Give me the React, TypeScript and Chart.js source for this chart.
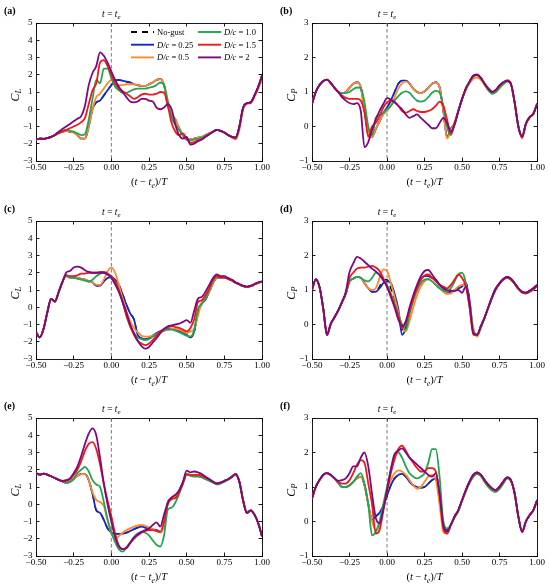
import { useEffect, useRef } from 'react';
import { Chart, registerables } from 'chart.js';

Chart.register(...registerables);

// time axis (t - te)/T shared by every panel
const tGrid = [
  -0.5, -0.475, -0.45, -0.425, -0.4, -0.375, -0.35, -0.325, -0.3, -0.275,
  -0.25, -0.225, -0.2, -0.175, -0.15, -0.125, -0.1, -0.075, -0.05, -0.025,
  0, 0.025, 0.05, 0.075, 0.1, 0.125, 0.15, 0.175, 0.2, 0.225,
  0.25, 0.275, 0.3, 0.325, 0.35, 0.375, 0.4, 0.425, 0.45, 0.475,
  0.5, 0.525, 0.55, 0.575, 0.6, 0.625, 0.65, 0.675, 0.7, 0.725,
  0.75, 0.775, 0.8, 0.825, 0.85, 0.875, 0.9, 0.925, 0.95, 0.975,
  1.0,
];

const seriesLabels = ['No-gust', 'D/c = 0.25', 'D/c = 0.5', 'D/c = 1.0', 'D/c = 1.5', 'D/c = 2'];
const seriesColors = ['#000000', '#1428c8', '#ff8a2a', '#22a552', '#f01818', '#80087e'];

// ---- panel (a): C_L
const aNoGust = [
  -1.75, -1.7, -1.72, -1.68, -1.6, -1.5, -1.35, -1.3, -1.25, -1.3,
  -1.35, -1.5, -1.7, -1.7, -1.0, 0.0, 0.4, 0.5, 0.8, 1.1,
  1.4, 1.65, 1.7, 1.65, 1.6, 1.55, 1.45, 1.4, 1.35, 1.35,
  1.45, 1.55, 1.7, 1.75, 1.4, 0.2, -0.3, -0.6, -1.1, -1.5,
  -1.75, -1.75, -1.7, -1.65, -1.6, -1.5, -1.4, -1.3, -1.2, -1.25,
  -1.35, -1.5, -1.6, -1.65, -1.0, 0.1, 0.35, 0.4, 0.8, 1.3,
  1.95,
];
const aD025 = [
  -1.75, -1.7, -1.72, -1.68, -1.6, -1.5, -1.35, -1.3, -1.25, -1.3,
  -1.35, -1.5, -1.7, -1.7, -1.0, 0.0, 0.4, 0.5, 0.8, 1.1,
  1.4, 1.65, 1.7, 1.65, 1.6, 1.55, 1.45, 1.4, 1.35, 1.35,
  1.45, 1.55, 1.7, 1.75, 1.4, 0.2, -0.3, -0.6, -1.1, -1.5,
  -1.75, -1.75, -1.7, -1.65, -1.6, -1.5, -1.4, -1.3, -1.2, -1.25,
  -1.35, -1.5, -1.6, -1.65, -1.0, 0.1, 0.35, 0.4, 0.8, 1.3,
  1.95,
];
const aD05 = [
  -1.75, -1.7, -1.72, -1.68, -1.6, -1.5, -1.35, -1.3, -1.25, -1.3,
  -1.35, -1.5, -1.7, -1.7, -1.0, 0.0, 0.7, 0.9, 1.2, 1.5,
  1.7, 1.5, 1.4, 1.4, 1.45, 1.45, 1.45, 1.4, 1.35, 1.35,
  1.45, 1.55, 1.7, 1.75, 1.4, 0.2, -0.3, -0.6, -1.1, -1.5,
  -1.75, -1.75, -1.7, -1.65, -1.6, -1.5, -1.4, -1.3, -1.2, -1.25,
  -1.35, -1.5, -1.65, -1.75, -1.2, 0.0, 0.3, 0.35, 0.7, 1.2,
  1.7,
];
const aD1 = [
  -1.75, -1.7, -1.72, -1.68, -1.6, -1.5, -1.35, -1.25, -1.2, -1.25,
  -1.3, -1.4, -1.5, -1.45, -0.6, 0.6, 1.7, 1.5, 2.35, 2.35,
  1.8, 1.3, 1.1, 0.95, 0.95, 1.05, 1.15, 1.2, 1.2, 1.2,
  1.25, 1.3, 1.4, 1.55, 1.4, 0.5, -0.5, -0.9, -1.2, -1.5,
  -1.75, -1.8, -1.75, -1.7, -1.65, -1.55, -1.45, -1.3, -1.2, -1.25,
  -1.35, -1.5, -1.6, -1.7, -1.0, 0.1, 0.35, 0.4, 0.8, 1.3,
  1.95,
];
const aD15 = [
  -1.75, -1.7, -1.72, -1.68, -1.6, -1.5, -1.4, -1.3, -1.2, -1.1,
  -1.0, -0.9, -0.75, -0.5, 0.3, 1.1, 1.5, 2.7, 2.85, 2.5,
  2.0, 1.5, 1.2, 1.05, 0.9, 0.75, 0.6, 0.7, 0.85, 0.9,
  0.85, 0.85, 0.9, 1.0, 0.95, 0.2, -0.8, -1.3, -1.5, -1.4,
  -1.7, -1.95, -1.9, -1.8, -1.75, -1.6, -1.45, -1.3, -1.2, -1.25,
  -1.35, -1.5, -1.6, -1.65, -1.0, 0.1, 0.35, 0.4, 0.8, 1.3,
  1.95,
];
const aD2 = [
  -1.75, -1.7, -1.72, -1.68, -1.6, -1.5, -1.3, -1.15, -1.0, -0.85,
  -0.7, -0.55, -0.4, 0.2, 1.4, 2.1, 2.5, 3.3, 3.1, 2.7,
  2.2, 1.7, 1.3, 1.0, 0.7, 0.45, 0.4, 0.45, 0.6, 0.6,
  0.5, 0.45, 0.1, 0.0, 0.1, 0.3, 0.0, -0.9, -1.5, -1.7,
  -1.6, -2.05, -2.0, -1.85, -1.75, -1.6, -1.45, -1.3, -1.2, -1.25,
  -1.35, -1.5, -1.6, -1.65, -1.0, 0.1, 0.35, 0.4, 0.8, 1.3,
  1.95,
];

// ---- panel (b): C_P
const bNoGust = [
  0.66, 1.0, 1.2, 1.32, 1.36, 1.26, 1.12, 1.0, 0.97, 1.0,
  1.12, 1.24, 1.28, 1.14, 0.46, -0.2, -0.3, -0.07, 0.15, 0.38,
  0.55, 0.75, 1.0, 1.24, 1.33, 1.33, 1.24, 1.1, 1.0, 0.97,
  1.02, 1.12, 1.24, 1.28, 1.14, 0.46, -0.3, -0.07, 0.1, 0.45,
  0.8, 1.1, 1.3, 1.47, 1.5, 1.41, 1.24, 1.1, 1.0, 1.06,
  1.19, 1.28, 1.33, 1.24, 0.7, 0.0, -0.3, 0.08, 0.27, 0.37,
  0.66,
];
const bD025 = [
  0.66, 1.0, 1.2, 1.32, 1.36, 1.26, 1.12, 1.0, 0.97, 1.0,
  1.12, 1.24, 1.28, 1.14, 0.46, -0.2, -0.3, -0.07, 0.15, 0.38,
  0.55, 0.75, 1.0, 1.24, 1.33, 1.33, 1.24, 1.1, 1.0, 0.97,
  1.02, 1.12, 1.24, 1.28, 1.14, 0.46, -0.3, -0.07, 0.1, 0.45,
  0.8, 1.1, 1.3, 1.47, 1.5, 1.41, 1.24, 1.1, 1.0, 1.06,
  1.19, 1.28, 1.33, 1.24, 0.7, 0.0, -0.3, 0.08, 0.27, 0.37,
  0.66,
];
const bD05 = [
  0.66, 1.0, 1.2, 1.32, 1.36, 1.26, 1.12, 1.0, 0.97, 1.0,
  1.12, 1.24, 1.28, 1.14, 0.46, -0.2, -0.3, -0.07, 0.15, 0.35,
  0.45, 0.6, 0.85, 1.1, 1.25, 1.3, 1.25, 1.1, 1.0, 0.97,
  1.02, 1.12, 1.24, 1.28, 1.14, 0.46, -0.35, -0.1, 0.1, 0.45,
  0.8, 1.05, 1.25, 1.38, 1.42, 1.35, 1.2, 1.05, 0.97, 1.0,
  1.12, 1.25, 1.35, 1.25, 0.7, 0.0, -0.35, 0.05, 0.25, 0.37,
  0.66,
];
const bD1 = [
  0.66, 1.0, 1.2, 1.32, 1.36, 1.26, 1.12, 1.0, 0.97, 0.97,
  1.0, 1.08, 1.13, 1.12, 0.7, 0.0, -0.25, 0.25, 0.33, 0.4,
  0.5, 0.6, 0.75, 0.88, 0.98, 1.02, 0.98, 0.85, 0.75, 0.72,
  0.75, 0.85, 0.98, 1.03, 0.98, 0.6, 0.0, -0.25, 0.05, 0.45,
  0.8, 1.1, 1.3, 1.45, 1.48, 1.4, 1.22, 1.05, 0.95, 1.0,
  1.12, 1.22, 1.3, 1.24, 0.7, 0.0, -0.3, 0.08, 0.27, 0.37,
  0.66,
];
const bD15 = [
  0.66, 1.0, 1.2, 1.32, 1.36, 1.26, 1.12, 1.0, 0.9, 0.83,
  0.8, 0.8, 0.8, 0.75, 0.4, -0.3, 0.0, 0.1, 0.3, 0.55,
  0.7, 0.75, 0.72, 0.6, 0.45, 0.4, 0.45, 0.5, 0.45, 0.42,
  0.42, 0.45, 0.5, 0.6, 0.72, 0.6, 0.2, -0.2, 0.1, 0.45,
  0.8, 1.1, 1.3, 1.47, 1.5, 1.41, 1.24, 1.1, 1.0, 1.06,
  1.19, 1.28, 1.33, 1.24, 0.7, 0.0, -0.3, 0.08, 0.27, 0.37,
  0.66,
];
const bD2 = [
  0.66, 1.0, 1.2, 1.32, 1.36, 1.26, 1.12, 1.0, 0.85, 0.75,
  0.68, 0.65, 0.68, 0.45, -0.6, -0.45, -0.1, 0.2, 0.45, 0.65,
  0.82, 0.78, 0.7, 0.6, 0.5, 0.35, 0.25, 0.3, 0.35, 0.25,
  0.15, 0.05, -0.05, -0.05, 0.1, 0.25, 0.1, -0.15, 0.05, 0.45,
  0.8, 1.1, 1.3, 1.47, 1.5, 1.41, 1.24, 1.1, 1.0, 1.06,
  1.19, 1.28, 1.33, 1.24, 0.7, 0.0, -0.3, 0.08, 0.27, 0.37,
  0.66,
];

// ---- panel (c): C_L
const cNoGust = [
  -1.45, -1.75, -1.26, -0.3, 0.49, 0.33, 0.87, 1.46, 1.85, 1.75,
  1.72, 1.7, 1.65, 1.6, 1.5, 1.45, 1.25, 1.25, 1.5, 1.7,
  1.75, 1.6, 1.3, 0.75, 0.15, -0.35, -0.7, -1.6, -1.8, -1.85,
  -1.8, -1.65, -1.5, -1.4, -1.3, -1.25, -1.25, -1.3, -1.35, -1.45,
  -1.6, -1.75, -1.4, -0.3, 0.2, 0.45, 0.9, 1.4, 1.7, 1.72,
  1.72, 1.65, 1.55, 1.42, 1.32, 1.22, 1.18, 1.22, 1.32, 1.42,
  1.48,
];
const cD025 = [
  -1.45, -1.75, -1.26, -0.3, 0.49, 0.33, 0.87, 1.46, 1.85, 1.75,
  1.72, 1.7, 1.65, 1.6, 1.5, 1.45, 1.25, 1.25, 1.5, 1.7,
  1.75, 1.6, 1.3, 0.75, 0.15, -0.35, -0.7, -1.6, -1.8, -1.85,
  -1.8, -1.65, -1.5, -1.4, -1.3, -1.25, -1.25, -1.3, -1.35, -1.45,
  -1.6, -1.75, -1.4, -0.3, 0.2, 0.45, 0.9, 1.4, 1.7, 1.72,
  1.72, 1.65, 1.55, 1.42, 1.32, 1.22, 1.18, 1.22, 1.32, 1.42,
  1.48,
];
const cD05 = [
  -1.45, -1.75, -1.26, -0.3, 0.49, 0.33, 0.87, 1.46, 1.85, 1.75,
  1.72, 1.7, 1.65, 1.6, 1.5, 1.45, 1.3, 1.3, 1.6, 2.1,
  2.3, 2.0, 1.3, 0.5, -0.2, -0.8, -1.2, -1.45, -1.65, -1.7,
  -1.7, -1.65, -1.55, -1.45, -1.35, -1.3, -1.25, -1.25, -1.3, -1.4,
  -1.5, -1.4, -1.25, -0.5, 0.3, 0.5, 0.9, 1.4, 1.7, 1.72,
  1.72, 1.65, 1.55, 1.42, 1.32, 1.22, 1.18, 1.22, 1.32, 1.42,
  1.48,
];
const cD1 = [
  -1.45, -1.75, -1.26, -0.3, 0.49, 0.33, 0.87, 1.46, 1.8, 1.7,
  1.7, 1.65, 1.6, 1.55, 1.5, 1.6, 1.8, 1.95, 2.0, 1.9,
  1.7, 1.35, 0.9, 0.3, -0.4, -1.1, -1.5, -1.75, -1.85, -1.9,
  -1.85, -1.7, -1.55, -1.45, -1.35, -1.3, -1.3, -1.35, -1.45, -1.55,
  -1.65, -1.7, -1.3, -0.1, 0.2, 0.5, 1.0, 1.5, 1.75, 1.72,
  1.72, 1.65, 1.55, 1.42, 1.32, 1.22, 1.18, 1.22, 1.32, 1.42,
  1.48,
];
const cD15 = [
  -1.45, -1.75, -1.26, -0.3, 0.49, 0.33, 0.87, 1.46, 1.85, 1.8,
  1.8, 1.85, 1.95, 1.95, 2.0, 2.0, 2.0, 2.05, 2.05, 1.95,
  1.8, 1.5, 1.0, 0.3, -0.5, -1.1, -1.6, -1.95, -2.1, -2.2,
  -2.1, -1.9, -1.65, -1.4, -1.25, -1.15, -1.1, -1.15, -1.2, -1.3,
  -1.4, -1.2, -0.7, 0.3, 0.4, 0.7, 1.1, 1.6, 1.8, 1.72,
  1.72, 1.65, 1.55, 1.42, 1.32, 1.22, 1.18, 1.22, 1.32, 1.42,
  1.48,
];
const cD2 = [
  -1.45, -1.75, -1.26, -0.3, 0.49, 0.33, 0.87, 1.46, 2.0, 2.1,
  2.3, 2.35, 2.3, 2.15, 2.05, 2.0, 2.0, 2.0, 2.0, 1.9,
  1.7, 1.35, 0.9, 0.3, -0.3, -1.0, -1.5, -1.95, -2.25, -2.4,
  -2.3, -2.05, -1.8, -1.5, -1.25, -1.1, -1.05, -1.0, -0.95, -0.85,
  -0.75, -0.9, -0.2, 0.5, 0.6, 0.9, 1.3, 1.7, 1.9, 1.8,
  1.8, 1.7, 1.6, 1.45, 1.35, 1.25, 1.2, 1.25, 1.35, 1.45,
  1.5,
];

// ---- panel (d): C_P
const dNoGust = [
  1.0, 1.31, 1.09, 0.46, -0.3, 0.02, 0.21, 0.41, 0.65, 0.89,
  1.25, 1.33, 1.38, 1.35, 1.2, 1.05, 0.95, 0.95, 1.1, 1.3,
  1.3, 1.05, 0.75, 0.3, -0.15, -0.1, 0.4, 0.8, 1.1, 1.3,
  1.4, 1.4, 1.35, 1.3, 1.15, 1.05, 0.95, 0.95, 1.0, 1.05,
  1.1, 1.2, 0.7, -0.2, -0.3, -0.05, 0.2, 0.5, 0.8, 1.05,
  1.2, 1.32, 1.38, 1.33, 1.2, 1.05, 0.95, 0.92, 0.98, 1.05,
  1.15,
];
const dD025 = [
  1.0, 1.31, 1.09, 0.46, -0.3, 0.02, 0.21, 0.41, 0.65, 0.89,
  1.25, 1.33, 1.38, 1.35, 1.2, 1.05, 0.95, 0.95, 1.05, 1.2,
  1.25, 1.2, 0.9, 0.45, -0.3, -0.1, 0.4, 0.8, 1.1, 1.3,
  1.4, 1.4, 1.35, 1.3, 1.15, 1.05, 0.95, 0.95, 1.0, 1.05,
  1.1, 1.2, 0.7, -0.2, -0.3, -0.05, 0.2, 0.5, 0.8, 1.05,
  1.2, 1.32, 1.38, 1.33, 1.2, 1.05, 0.95, 0.92, 0.98, 1.05,
  1.15,
];
const dD05 = [
  1.0, 1.31, 1.09, 0.46, -0.3, 0.02, 0.21, 0.41, 0.65, 0.89,
  1.25, 1.33, 1.38, 1.35, 1.2, 1.05, 1.0, 1.05, 1.35, 1.6,
  1.55, 1.2, 0.8, 0.35, -0.05, -0.2, 0.1, 0.5, 0.85, 1.1,
  1.25, 1.3, 1.25, 1.15, 1.05, 0.95, 0.88, 0.9, 1.0, 1.1,
  1.15, 1.1, 0.6, -0.1, -0.35, -0.1, 0.2, 0.5, 0.78, 1.02,
  1.18, 1.3, 1.36, 1.3, 1.18, 1.03, 0.93, 0.9, 0.95, 1.02,
  1.12,
];
const dD1 = [
  1.0, 1.31, 1.09, 0.46, -0.3, 0.02, 0.21, 0.41, 0.65, 0.89,
  1.25, 1.33, 1.38, 1.35, 1.28, 1.25, 1.35, 1.5, 1.45, 1.3,
  1.15, 0.9, 0.6, 0.3, 0.0, -0.15, 0.3, 0.7, 1.0, 1.2,
  1.3, 1.32, 1.25, 1.15, 1.05, 0.98, 0.95, 1.05, 1.25, 1.45,
  1.5, 1.2, 0.5, -0.2, -0.3, -0.1, 0.2, 0.5, 0.78, 1.02,
  1.18, 1.3, 1.36, 1.3, 1.18, 1.03, 0.93, 0.9, 0.95, 1.02,
  1.12,
];
const dD15 = [
  1.0, 1.31, 1.09, 0.46, -0.3, 0.02, 0.21, 0.41, 0.65, 0.9,
  1.35, 1.5, 1.62, 1.65, 1.65, 1.68, 1.7, 1.65, 1.55, 1.35,
  1.1, 0.85, 0.55, 0.25, -0.1, 0.05, 0.4, 0.75, 1.05, 1.3,
  1.42, 1.45, 1.35, 1.25, 1.15, 1.1, 1.05, 1.15, 1.3, 1.45,
  1.35, 1.1, 0.5, -0.3, -0.3, -0.05, 0.2, 0.5, 0.78, 1.02,
  1.18, 1.3, 1.36, 1.3, 1.18, 1.03, 0.93, 0.9, 0.95, 1.02,
  1.12,
];
const dD2 = [
  1.0, 1.31, 1.09, 0.46, -0.3, 0.02, 0.21, 0.41, 0.65, 0.95,
  1.52, 1.77, 1.96, 1.91, 1.82, 1.72, 1.62, 1.54, 1.43, 1.28,
  1.09, 0.8, 0.5, 0.15, -0.05, 0.1, 0.5, 0.85, 1.15, 1.4,
  1.55, 1.58, 1.45, 1.3, 1.15, 1.05, 1.0, 0.98, 0.97, 1.0,
  0.92, 1.1, 0.6, -0.25, -0.3, -0.05, 0.2, 0.5, 0.8, 1.05,
  1.2, 1.32, 1.38, 1.33, 1.2, 1.05, 0.95, 0.92, 0.98, 1.05,
  1.15,
];

// ---- panel (e): C_L
const eNoGust = [
  1.8, 1.72, 1.78, 1.72, 1.62, 1.52, 1.42, 1.33, 1.25, 1.3,
  1.45, 1.65, 1.75, 1.75, 1.4, 0.6, -0.35, -0.5, -0.9, -1.4,
  -1.65, -1.7, -1.72, -1.7, -1.65, -1.55, -1.45, -1.35, -1.3, -1.35,
  -1.4, -1.45, -1.5, -1.6, -1.2, 0.1, 0.35, 0.45, 0.8, 1.25,
  1.75, 1.7, 1.7, 1.7, 1.65, 1.55, 1.45, 1.3, 1.2, 1.25,
  1.35, 1.45, 1.6, 1.75, 1.3, 0.2, -0.5, -0.35, -0.6, -1.1,
  -1.85,
];
const eD025 = [
  1.8, 1.72, 1.78, 1.72, 1.62, 1.52, 1.42, 1.33, 1.25, 1.3,
  1.45, 1.65, 1.75, 1.75, 1.4, 0.6, -0.35, -0.5, -0.9, -1.4,
  -1.65, -1.7, -1.72, -1.7, -1.65, -1.55, -1.45, -1.35, -1.3, -1.35,
  -1.4, -1.45, -1.5, -1.6, -1.2, 0.1, 0.35, 0.45, 0.8, 1.25,
  1.75, 1.7, 1.7, 1.7, 1.65, 1.55, 1.45, 1.3, 1.2, 1.25,
  1.35, 1.45, 1.6, 1.75, 1.3, 0.2, -0.5, -0.35, -0.6, -1.1,
  -1.85,
];
const eD05 = [
  1.8, 1.72, 1.78, 1.72, 1.62, 1.52, 1.42, 1.33, 1.25, 1.3,
  1.45, 1.65, 1.75, 1.75, 1.4, 0.7, 0.25, 0.13, -0.1, -0.9,
  -1.7, -2.0, -1.85, -1.65, -1.5, -1.4, -1.3, -1.22, -1.2, -1.25,
  -1.35, -1.45, -1.55, -1.65, -1.2, 0.1, 0.35, 0.45, 0.8, 1.25,
  1.75, 1.7, 1.7, 1.7, 1.65, 1.55, 1.45, 1.3, 1.2, 1.25,
  1.35, 1.45, 1.6, 1.75, 1.3, 0.2, -0.5, -0.35, -0.6, -1.1,
  -1.85,
];
const eD1 = [
  1.8, 1.72, 1.78, 1.72, 1.62, 1.52, 1.42, 1.33, 1.25, 1.3,
  1.5, 1.8, 2.0, 2.17, 1.9, 1.4, 1.15, 1.0, 0.15, -0.9,
  -1.6, -2.2, -2.6, -2.75, -2.5, -2.2, -1.9, -1.7, -1.6, -1.65,
  -1.8, -2.1, -2.35, -2.45, -1.8, -0.3, -0.2, 0.1, 0.6, 1.2,
  1.7, 1.65, 1.6, 1.6, 1.55, 1.45, 1.35, 1.25, 1.15, 1.2,
  1.3, 1.42, 1.55, 1.7, 1.25, 0.2, -0.5, -0.35, -0.6, -1.1,
  -1.85,
];
const eD15 = [
  1.8, 1.72, 1.78, 1.72, 1.62, 1.52, 1.42, 1.33, 1.35, 1.45,
  1.7, 2.0, 2.5, 3.1, 3.5, 3.6, 3.2, 2.3, 1.2, 0.2,
  -0.7, -1.7, -2.4, -2.6, -2.5, -2.25, -2.0, -1.8, -1.65, -1.55,
  -1.5, -1.5, -1.55, -1.6, -1.0, 0.0, 0.3, 0.35, 0.7, 1.2,
  1.75, 1.7, 1.7, 1.7, 1.65, 1.55, 1.45, 1.3, 1.2, 1.25,
  1.35, 1.45, 1.6, 1.75, 1.3, 0.2, -0.5, -0.35, -0.6, -1.1,
  -1.85,
];
const eD2 = [
  1.8, 1.72, 1.78, 1.72, 1.62, 1.52, 1.42, 1.35, 1.4, 1.5,
  1.8, 2.2, 2.8, 3.5, 4.1, 4.4, 4.0, 2.7, 1.2, 0.0,
  -1.0, -1.9, -2.45, -2.6, -2.55, -2.25, -1.95, -1.75, -1.6, -1.5,
  -1.4, -1.2, -1.05, -1.3, -0.6, 0.1, 0.4, 0.55, 0.8, 1.3,
  1.95, 1.85, 1.9, 1.85, 1.75, 1.6, 1.45, 1.3, 1.2, 1.25,
  1.35, 1.45, 1.6, 1.75, 1.3, 0.2, -0.5, -0.35, -0.6, -1.1,
  -1.85,
];

// ---- panel (f): C_P
const fNoGust = [
  0.67, 1.0, 1.2, 1.35, 1.4, 1.35, 1.25, 1.12, 1.0, 1.0,
  1.05, 1.15, 1.25, 1.3, 1.05, 0.5, 0.05, 0.15, 0.25, 0.45,
  0.75, 1.05, 1.25, 1.35, 1.38, 1.3, 1.15, 1.05, 1.0, 0.98,
  1.0, 1.1, 1.2, 1.25, 0.8, -0.1, -0.25, -0.1, 0.14, 0.33,
  0.62, 0.91, 1.16, 1.35, 1.42, 1.35, 1.2, 1.06, 0.96, 0.91,
  1.01, 1.16, 1.28, 1.2, 0.82, 0.14, -0.3, 0.0, 0.18, 0.33,
  0.62,
];
const fD025 = [
  0.67, 1.0, 1.2, 1.35, 1.4, 1.35, 1.25, 1.12, 1.0, 1.0,
  1.05, 1.15, 1.25, 1.3, 1.05, 0.5, 0.05, 0.15, 0.25, 0.45,
  0.75, 1.05, 1.25, 1.35, 1.38, 1.3, 1.15, 1.05, 1.0, 0.98,
  1.0, 1.1, 1.2, 1.25, 0.8, -0.1, -0.25, -0.1, 0.14, 0.33,
  0.62, 0.91, 1.16, 1.35, 1.42, 1.35, 1.2, 1.06, 0.96, 0.91,
  1.01, 1.16, 1.28, 1.2, 0.82, 0.14, -0.3, 0.0, 0.18, 0.33,
  0.62,
];
const fD05 = [
  0.67, 1.0, 1.2, 1.35, 1.4, 1.35, 1.25, 1.12, 1.0, 1.0,
  1.05, 1.15, 1.25, 1.3, 1.05, 0.5, 0.0, -0.25, -0.1, 0.4,
  0.9, 1.2, 1.4, 1.48, 1.45, 1.35, 1.2, 1.05, 0.95, 1.0,
  1.15, 1.3, 1.35, 1.2, 0.5, -0.3, -0.35, -0.1, 0.12, 0.3,
  0.6, 0.88, 1.12, 1.3, 1.38, 1.32, 1.15, 1.0, 0.9, 0.86,
  0.95, 1.1, 1.25, 1.18, 0.82, 0.14, -0.3, 0.0, 0.18, 0.33,
  0.62,
];
const fD1 = [
  0.67, 1.0, 1.2, 1.35, 1.4, 1.35, 1.25, 1.12, 1.0, 1.0,
  1.05, 1.15, 1.3, 1.4, 1.1, 0.5, -0.4, -0.3, 0.0, 0.5,
  1.0, 1.5, 1.95, 2.0, 1.85, 1.6, 1.4, 1.3, 1.25, 1.3,
  1.4, 1.7, 2.1, 2.1, 1.3, 0.0, -0.2, -0.1, 0.12, 0.3,
  0.6, 0.88, 1.12, 1.3, 1.38, 1.32, 1.15, 1.0, 0.9, 0.86,
  0.95, 1.1, 1.25, 1.18, 0.82, 0.14, -0.3, 0.0, 0.18, 0.33,
  0.62,
];
const fD15 = [
  0.67, 1.0, 1.2, 1.35, 1.4, 1.35, 1.25, 1.15, 1.1, 1.1,
  1.2, 1.4, 1.65, 1.78, 1.7, 1.1, 0.5, -0.35, -0.25, 0.3,
  0.9, 1.4, 1.8, 2.1, 2.2, 2.05, 1.85, 1.7, 1.55, 1.45,
  1.45, 1.55, 1.55, 1.45, 0.8, -0.2, -0.35, -0.1, 0.14, 0.33,
  0.62, 0.91, 1.16, 1.35, 1.42, 1.35, 1.2, 1.06, 0.96, 0.91,
  1.01, 1.16, 1.28, 1.2, 0.82, 0.14, -0.3, 0.0, 0.18, 0.33,
  0.62,
];
const fD2 = [
  0.67, 1.0, 1.2, 1.35, 1.4, 1.35, 1.25, 1.18, 1.2, 1.25,
  1.4, 1.6, 1.6, 1.85, 2.0, 1.6, 0.8, 0.1, -0.05, 0.35,
  0.9, 1.5, 1.95, 2.05, 2.12, 2.0, 1.85, 1.75, 1.65, 1.55,
  1.45, 1.35, 1.3, 1.4, 0.8, -0.1, -0.3, -0.1, 0.14, 0.33,
  0.62, 0.91, 1.16, 1.35, 1.42, 1.35, 1.2, 1.06, 0.96, 0.91,
  1.01, 1.16, 1.28, 1.2, 0.82, 0.14, -0.3, 0.0, 0.18, 0.33,
  0.62,
];

const panels = [
  { tag: '(a)', ySub: 'L', yMin: -3, yMax: 5, legend: true, col: 0, row: 0,
    series: [aNoGust, aD025, aD05, aD1, aD15, aD2] },
  { tag: '(b)', ySub: 'P', yMin: -1, yMax: 3, legend: false, col: 1, row: 0,
    series: [bNoGust, bD025, bD05, bD1, bD15, bD2] },
  { tag: '(c)', ySub: 'L', yMin: -3, yMax: 5, legend: false, col: 0, row: 1,
    series: [cNoGust, cD025, cD05, cD1, cD15, cD2] },
  { tag: '(d)', ySub: 'P', yMin: -1, yMax: 3, legend: false, col: 1, row: 1,
    series: [dNoGust, dD025, dD05, dD1, dD15, dD2] },
  { tag: '(e)', ySub: 'L', yMin: -3, yMax: 5, legend: false, col: 0, row: 2,
    series: [eNoGust, eD025, eD05, eD1, eD15, eD2] },
  { tag: '(f)', ySub: 'P', yMin: -1, yMax: 3, legend: false, col: 1, row: 2,
    series: [fNoGust, fD025, fD05, fD1, fD15, fD2] },
];

const SERIF = '"Liberation Serif", "Times New Roman", serif';
const CELL_W = [275, 274];
const CELL_X = [0, 276];
const CELL_Y = [0, 198, 395];
const CELL_H = 191;

type Run = { t: string; it?: boolean; sub?: boolean };

const runFont = (r: Run, size: number) =>
  `${r.it ? 'italic ' : ''}${r.sub ? size * 0.72 : size}px ${SERIF}`;

// draw a line of mixed italic / subscript text, y is the baseline
const drawRich = (ctx: CanvasRenderingContext2D, runs: Run[], x: number, y: number,
  size: number, align: 'left' | 'center') => {
  let width = 0;
  runs.forEach((r) => {
    ctx.font = runFont(r, size);
    width += ctx.measureText(r.t).width;
  });
  let cx = align === 'center' ? x - width / 2 : x;
  ctx.textAlign = 'left';
  ctx.textBaseline = 'alphabetic';
  runs.forEach((r) => {
    ctx.font = runFont(r, size);
    ctx.fillText(r.t, cx, r.sub ? y + size * 0.24 : y);
    cx += ctx.measureText(r.t).width;
  });
};

const labelRuns = (label: string): Run[] =>
  label.startsWith('D/c') ? [{ t: 'D/c', it: true }, { t: label.slice(3) }] : [{ t: label }];

const fmtTick = (v: number, digits: number) =>
  (v < 0 ? '\u2212' : '') + Math.abs(v).toFixed(digits);

const makeAnnotations = (cfg: typeof panels[number]) => ({
  id: 'annotations',
  beforeDatasetsDraw(chart: Chart) {
    const { ctx, chartArea } = chart;
    const x0 = chart.scales.x.getPixelForValue(0);
    ctx.save();
    ctx.strokeStyle = '#7a7a7a';
    ctx.lineWidth = 1;
    ctx.setLineDash([3.5, 2.5]);
    ctx.beginPath();
    ctx.moveTo(x0, chartArea.top);
    ctx.lineTo(x0, chartArea.bottom);
    ctx.stroke();
    ctx.restore();
  },
  afterDraw(chart: Chart) {
    const { ctx, chartArea } = chart;
    const x0 = chart.scales.x.getPixelForValue(0);
    ctx.save();
    ctx.fillStyle = '#000';

    // panel tag
    ctx.font = `bold 10px ${SERIF}`;
    ctx.textAlign = 'left';
    ctx.textBaseline = 'alphabetic';
    ctx.fillText(cfg.tag, 4, 14);

    // t = te marker above the frame
    drawRich(ctx, [{ t: 't', it: true }, { t: ' = ' }, { t: 't', it: true }, { t: 'e', it: true, sub: true }],
      x0, chartArea.top - 6.5, 9.5, 'center');

    // x axis title
    drawRich(ctx, [{ t: '(' }, { t: 't', it: true }, { t: ' \u2212 ' }, { t: 't', it: true },
      { t: 'e', it: true, sub: true }, { t: ')/' }, { t: 'T', it: true }],
      (chartArea.left + chartArea.right) / 2, chartArea.bottom + 24, 10.5, 'center');

    // y axis title, rotated
    ctx.save();
    ctx.translate(14.5, (chartArea.top + chartArea.bottom) / 2 + 3);
    ctx.rotate(-Math.PI / 2);
    drawRich(ctx, [{ t: 'C', it: true }, { t: cfg.ySub, it: true, sub: true }], 0, 4, 12, 'center');
    ctx.restore();

    if (cfg.legend) {
      chart.data.datasets.forEach((ds: any, k: number) => {
        const col = Math.floor(k / 3);
        const row = k % 3;
        const lx = chartArea.left + (col === 0 ? 95 : 162);
        const ly = chartArea.top + 9 + row * 12.7;
        ctx.save();
        ctx.strokeStyle = ds.borderColor;
        ctx.lineWidth = 1.9;
        ctx.setLineDash(ds.borderDash || []);
        ctx.beginPath();
        ctx.moveTo(lx, ly);
        ctx.lineTo(lx + 23, ly);
        ctx.stroke();
        ctx.restore();
        ctx.fillStyle = '#000';
        drawRich(ctx, labelRuns(ds.label), lx + 26, ly + 3, 8.5, 'left');
      });
    }
    ctx.restore();
  },
});

const Panel = ({ cfg }: { cfg: typeof panels[number] }) => {
  const ref = useRef<HTMLCanvasElement>(null);
  const w = CELL_W[cfg.col];

  useEffect(() => {
    if (ref.current == null) return () => {};
    const frame = { color: '#000', width: 0.9 };
    const tickGrid = { drawOnChartArea: false, tickLength: -3.5, color: '#000', lineWidth: 0.9 };
    const tickFont = { family: SERIF, size: 9 };
    const chart = new Chart(ref.current, {
      type: 'line',
      data: {
        datasets: cfg.series.map((values, k) => ({
          label: seriesLabels[k],
          data: tGrid.map((t, i) => ({ x: t, y: values[i] })),
          borderColor: seriesColors[k],
          backgroundColor: seriesColors[k],
          borderWidth: k === 0 ? 1.5 : 1.8,
          borderDash: k === 0 ? [6, 5] : [],
          pointRadius: 0,
          fill: false,
          cubicInterpolationMode: 'monotone' as const,
          order: seriesLabels.length - 1 - k,
        })),
      },
      options: {
        animation: false,
        responsive: false,
        events: [],
        layout: { padding: { top: 23, right: cfg.col === 0 ? 13 : 12, left: 0, bottom: 0 } },
        plugins: { legend: { display: false }, tooltip: { enabled: false }, title: { display: false } },
        scales: {
          x: {
            type: 'linear', position: 'bottom', min: -0.5, max: 1,
            ticks: { stepSize: 0.25, autoSkip: false, maxRotation: 0, padding: 5, color: '#000',
              font: tickFont, callback: (v: any) => fmtTick(Number(v), 2) },
            grid: tickGrid, border: frame,
            afterFit: (s: any) => { s.height = 30; },
          },
          x2: {
            type: 'linear', position: 'top', min: -0.5, max: 1,
            ticks: { stepSize: 0.25, display: false },
            grid: tickGrid, border: frame,
            afterFit: (s: any) => { s.height = 0; },
          },
          y: {
            type: 'linear', position: 'left', min: cfg.yMin, max: cfg.yMax,
            ticks: { stepSize: 1, padding: 7, color: '#000', font: tickFont,
              callback: (v: any) => fmtTick(Number(v), 0) },
            grid: tickGrid, border: frame,
            afterFit: (s: any) => { s.width = 36; },
          },
          y2: {
            type: 'linear', position: 'right', min: cfg.yMin, max: cfg.yMax,
            ticks: { stepSize: 1, display: false },
            grid: tickGrid, border: frame,
            afterFit: (s: any) => { s.width = 0; },
          },
        },
      },
      plugins: [makeAnnotations(cfg)],
    } as any);
    return () => {
      chart.destroy();
    };
  }, [cfg]);

  return (
    <div style={{ position: 'absolute', left: CELL_X[cfg.col], top: CELL_Y[cfg.row], width: w, height: CELL_H }}>
      <canvas ref={ref} width={w} height={CELL_H} style={{ display: 'block' }} />
    </div>
  );
};

const App = () => (
  <div style={{ position: 'absolute', left: 0, top: 0, width: 550, height: 586, background: '#fff', overflow: 'hidden' }}>
    {panels.map((p) => <Panel key={p.tag} cfg={p} />)}
  </div>
);

export default App;
